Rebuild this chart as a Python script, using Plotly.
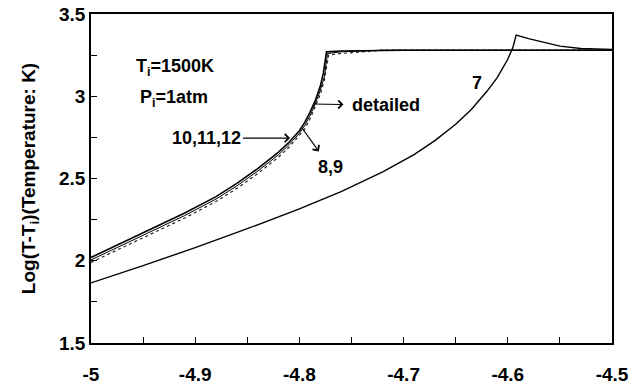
import plotly.graph_objects as go

# ---- data ----
x_detailed = [-5.0, -4.97, -4.94, -4.91, -4.88, -4.86, -4.84, -4.82, -4.81, -4.80,
              -4.795, -4.79, -4.785, -4.78, -4.777, -4.774, -4.76, -4.70, -4.5]
y_detailed = [2.02, 2.11, 2.20, 2.29, 2.39, 2.47, 2.56, 2.66, 2.72, 2.79,
              2.84, 2.90, 2.97, 3.06, 3.14, 3.27, 3.275, 3.28, 3.28]

x_1012 = [-5.0, -4.97, -4.94, -4.91, -4.88, -4.86, -4.84, -4.82, -4.81, -4.80,
          -4.795, -4.79, -4.785, -4.78, -4.776, -4.773, -4.76, -4.72, -4.5]
y_1012 = [2.005, 2.095, 2.185, 2.275, 2.375, 2.455, 2.545, 2.645, 2.705, 2.775,
          2.82, 2.88, 2.95, 3.035, 3.12, 3.26, 3.27, 3.28, 3.28]

x_89 = [-5.0, -4.97, -4.94, -4.91, -4.88, -4.86, -4.84, -4.82, -4.81, -4.80,
        -4.795, -4.79, -4.785, -4.78, -4.776, -4.772, -4.76, -4.74, -4.72, -4.5]
y_89 = [1.99, 2.08, 2.17, 2.26, 2.36, 2.44, 2.53, 2.63, 2.69, 2.76,
        2.80, 2.86, 2.93, 3.01, 3.10, 3.25, 3.26, 3.27, 3.28, 3.28]

x_7 = [-5.0, -4.95, -4.90, -4.85, -4.80, -4.76, -4.72, -4.69, -4.67, -4.65,
       -4.635, -4.62, -4.61, -4.60, -4.595, -4.592, -4.58, -4.569, -4.55, -4.53,
       -4.51, -4.5]
y_7 = [1.865, 1.970, 2.080, 2.195, 2.315, 2.420, 2.540, 2.645, 2.730, 2.830,
       2.920, 3.030, 3.115, 3.225, 3.300, 3.372, 3.350, 3.332, 3.305, 3.290,
       3.286, 3.285]

x_ticks = [-5, -4.9, -4.8, -4.7, -4.6, -4.5]
x_ticklabels = ["-5", "-4.9", "-4.8", "-4.7", "-4.6", "-4.5"]
y_ticks = [1.5, 2, 2.5, 3, 3.5]
y_ticklabels = ["1.5", "2", "2.5", "3", "3.5"]
X_RANGE = [-5, -4.5]
Y_RANGE = [1.5, 3.5]

FONT = "Liberation Sans, Arial, sans-serif"

fig = go.Figure()
# curve 7 lives on the label axis x2 (same fixed range as x), so that axis gets drawn
fig.add_trace(go.Scatter(x=x_7, y=y_7, mode="lines", name="7", xaxis="x2", yaxis="y",
                         line=dict(color="black", width=1.4)))
fig.add_trace(go.Scatter(x=x_89, y=y_89, mode="lines", name="8,9",
                         line=dict(color="#222", width=1.2, dash="dot")))
fig.add_trace(go.Scatter(x=x_1012, y=y_1012, mode="lines", name="10,11,12",
                         line=dict(color="black", width=1.0)))
fig.add_trace(go.Scatter(x=x_detailed, y=y_detailed, mode="lines", name="detailed",
                         line=dict(color="black", width=1.6)))

tf = dict(family=FONT, size=18, color="black", weight="bold")

def txt(x, y, s):
    fig.add_annotation(x=x, y=y, text=s, showarrow=False, font=tf,
                       xanchor="center", yanchor="middle")

txt(-4.9194, 3.172, "T<sub>i</sub>=1500K")
txt(-4.9203, 2.989, "P<sub>i</sub>=1atm")
txt(-4.6296, 3.08, "7")

# arrow pointing from the label to the curve
fig.add_annotation(x=-4.809, y=2.746, ax=-4.8887, ay=2.746, axref="x", ayref="y",
                   text="10,11,12", font=tf, showarrow=True, arrowhead=4,
                   arrowsize=1.3, arrowwidth=1.2, arrowcolor="black", standoff=0)
# arrows pointing from the curve to the label
fig.add_annotation(x=-4.787, y=2.953, ax=-4.7169, ay=2.945, axref="x", ayref="y",
                   text="detailed", font=tf, showarrow=True, arrowside="start",
                   startarrowhead=4, startarrowsize=1.3, arrowwidth=1.2,
                   arrowcolor="black", startstandoff=7)
fig.add_annotation(x=-4.7975, y=2.807, ax=-4.7706, ay=2.570, axref="x", ayref="y",
                   text="8,9", font=tf, showarrow=True, arrowside="start",
                   startarrowhead=4, startarrowsize=1.3, arrowwidth=1.2,
                   arrowcolor="black", startstandoff=5)

tickfont = dict(family=FONT, size=19, color="black", weight="bold")
axis_common = dict(showline=True, linecolor="black", linewidth=1.5, mirror=True,
                   ticks="inside", ticklen=6, tickcolor="black", tickwidth=1.2,
                   showgrid=False, zeroline=False, tickfont=tickfont, automargin=False)

fig.update_layout(
    xaxis=dict(range=X_RANGE, tickvals=x_ticks, showticklabels=False,
               minor=dict(dtick=0.05, ticks="inside", ticklen=6, tickcolor="black",
                          tickwidth=1.2, showgrid=False),
               **axis_common),
    # label axis: tick labels sit lower, as in the reference
    xaxis2=dict(range=X_RANGE, overlaying="x", anchor="y", side="bottom",
                tickvals=x_ticks, ticktext=x_ticklabels, ticks="outside",
                ticklen=14, tickcolor="rgba(0,0,0,0)", showline=False,
                showgrid=False, zeroline=False, tickfont=tickfont, automargin=False),
    yaxis=dict(range=Y_RANGE, tickvals=y_ticks, ticktext=y_ticklabels,
               minor=dict(dtick=0.25, ticks="inside", ticklen=6, tickcolor="black",
                          tickwidth=1.2, showgrid=False),
               title=dict(text="Log(T-T<sub>i</sub>)(Temperature: K)",
                          font=dict(family=FONT, size=19, color="black", weight="bold"),
                          standoff=18),
               **axis_common),
)

fig.update_layout(width=631, height=390, margin=dict(l=91, r=19, t=14, b=47),
                  paper_bgcolor="white", plot_bgcolor="white", showlegend=False)

fig.write_html("out.html")
